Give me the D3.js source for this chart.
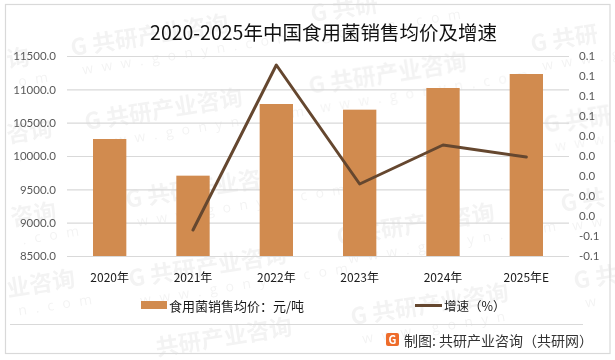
<!DOCTYPE html>
<html>
<head>
<meta charset="utf-8">
<script src="https://cdn.jsdelivr.net/npm/d3@7"></script>
<style>
  html, body { margin: 0; padding: 0; background: #fff; }
  svg { display: block; font-family: "Noto Sans CJK SC", "Noto Sans", sans-serif; }
  .axis path, .axis line { display: none; }
  .axis text { font-family: Lato, "Noto Sans CJK SC", sans-serif; font-size: 11.5px; fill: #595959; }
  .x-axis text { font-family: "Noto Sans CJK SC", sans-serif; font-size: 12px; fill: #1a1a1a; }
  .grid line { stroke: #d9d9d9; stroke-width: 1.2; }
  .grid path { display: none; }
</style>
</head>
<body>
<svg id="chart" width="615" height="360"></svg>
<script>
const years = ["2020年", "2021年", "2022年", "2023年", "2024年", "2025年E"];
const prices = [10255, 9705, 10780, 10695, 11020, 11230];
const growth = [null, -0.054, 0.111, -0.008, 0.031, 0.019];
const leftTicks = [8500, 9000, 9500, 10000, 10500, 11000, 11500];
const rightTicks = [-0.08, -0.06, -0.04, -0.02, 0, 0.02, 0.04, 0.06, 0.08, 0.1, 0.12];
// watermark stamps, only the part of each one that shows inside the page
const watermarks = [
  [72, 56, "G 共研产业咨询", "www.gonyn.com"],
  [312, 22, "G 共研", "gonyn.com"],
  [532, 52, "G 共研", "www.g"],
  [86, 130, "G 共研产业咨询", "www.gonyn.com"],
  [310, 94, "G 共研产业咨询", "www.gonyn.com"],
  [545, 133, "G 共研", "www.g"],
  [8, 68, "询", "om"],
  [8, 143, "咨询", ".c"],
  [12, 226, "咨询", ".com"],
  [8, 297, "业咨询", "n.com"],
  [127, 208, "G 共研产业咨询", "www.gonyn.com"],
  [338, 245, "G 共研产业咨询", "www.gonyn.com"],
  [562, 212, "G 共", "ww"],
  [130, 287, "G 共研产业咨询", "www.gonyn.com"],
  [352, 325, "G 共研产业咨询", "www.gonyn"],
  [575, 289, "G 共", "w"],
  [157, 356, "共研产业咨询", ""]
];

const svg = d3.select("#chart");
const margin = { top: 56, right: 46, bottom: 104, left: 67 };
const width = 615, height = 360;
const innerWidth = width - margin.left - margin.right;
const innerHeight = height - margin.top - margin.bottom;

const x = d3.scaleBand().domain(years).range([1, 501]).paddingInner(0.6).paddingOuter(0.3);
const y = d3.scaleLinear().domain([8500, 11500]).range([innerHeight, 0]);
const y2 = d3.scaleLinear().domain([-0.08, 0.12]).range([innerHeight, 0]);
const plainFormat = d3.formatLocale({ decimal: ".", thousands: ",", grouping: [3], currency: ["", ""], minus: "-" }).format(".1f");

// watermark goes under everything
const wm = svg.append("g").attr("opacity", 0.05);
watermarks.forEach(([wx, wy, label, url]) => {
  const item = wm.append("g").attr("transform", `translate(${wx},${wy}) rotate(-9)`);
  item.append("text").attr("font-size", 23).attr("font-weight", 700).attr("font-family", "'Noto Sans CJK SC'").text(label);
  if (url) item.append("text").attr("x", 8).attr("y", 20).attr("font-size", 14).attr("letter-spacing", 8.5).attr("font-family", "'Open Sans'").text(url);
});

svg.append("rect").attr("x", 5.5).attr("y", 4.5).attr("width", 604.5).attr("height", 349)
  .attr("fill", "none").attr("stroke", "#d9d9d9").attr("stroke-width", 1.2);

svg.append("text").attr("x", 323.5).attr("y", 40).attr("text-anchor", "middle")
  .attr("font-size", 19.5).attr("fill", "#111").text("2020-2025年中国食用菌销售均价及增速");

const g = svg.append("g").attr("transform", `translate(${margin.left},${margin.top})`);

g.append("g").attr("class", "grid")
  .call(d3.axisLeft(y).tickValues(leftTicks).tickSize(-innerWidth).tickFormat(""));

g.selectAll("rect.bar").data(years).join("rect").attr("class", "bar")
  .attr("x", d => x(d))
  .attr("y", (d, i) => y(prices[i]))
  .attr("width", x.bandwidth())
  .attr("height", (d, i) => innerHeight - y(prices[i]))
  .attr("fill", "#d18b4f");

const line = d3.line()
  .defined(d => d.v !== null)
  .x(d => x(d.year) + x.bandwidth() / 2)
  .y(d => y2(d.v));

g.append("path")
  .datum(years.map((year, i) => ({ year, v: growth[i] })))
  .attr("fill", "none").attr("stroke", "#65472f").attr("stroke-width", 3)
  .attr("stroke-linecap", "round").attr("stroke-linejoin", "round")
  .attr("d", line);

g.append("g").attr("class", "axis")
  .call(d3.axisLeft(y).tickValues(leftTicks).tickSize(0).tickPadding(11).tickFormat(d3.format(".1f")));
g.append("g").attr("class", "axis").attr("transform", `translate(${innerWidth},0)`)
  .call(d3.axisRight(y2).tickValues(rightTicks).tickSize(0).tickPadding(10).tickFormat(plainFormat));
g.append("g").attr("class", "axis x-axis").attr("transform", `translate(0,${innerHeight})`)
  .call(d3.axisBottom(x).tickSize(0).tickPadding(17));

// legend
svg.append("rect").attr("x", 141).attr("y", 301).attr("width", 26).attr("height", 8).attr("fill", "#d18b4f");
svg.append("text").attr("x", 169).attr("y", 310.5).attr("font-size", 13).attr("fill", "#1a1a1a").text("食用菌销售均价：元/吨");
svg.append("line").attr("x1", 415).attr("x2", 442).attr("y1", 305.5).attr("y2", 305.5)
  .attr("stroke", "#65472f").attr("stroke-width", 3);
svg.append("text").attr("x", 444).attr("y", 310.5).attr("font-size", 12.5).attr("fill", "#1a1a1a").text("增速（%）");

// footer
svg.append("line").attr("x1", 10).attr("x2", 583).attr("y1", 324.5).attr("y2", 324.5)
  .attr("stroke", "#d9d9d9").attr("stroke-width", 1);
svg.append("rect").attr("x", 386).attr("y", 333).attr("width", 13).attr("height", 13).attr("rx", 2).attr("fill", "#ee6c2b");
svg.append("text").attr("x", 392.5).attr("y", 344).attr("text-anchor", "middle")
  .attr("font-size", 11).attr("font-weight", 700).attr("fill", "#fff").text("G");
svg.append("text").attr("x", 404).attr("y", 346).attr("font-size", 14).attr("fill", "#333").text("制图: 共研产业咨询（共研网）");
</script>
</body>
</html>
